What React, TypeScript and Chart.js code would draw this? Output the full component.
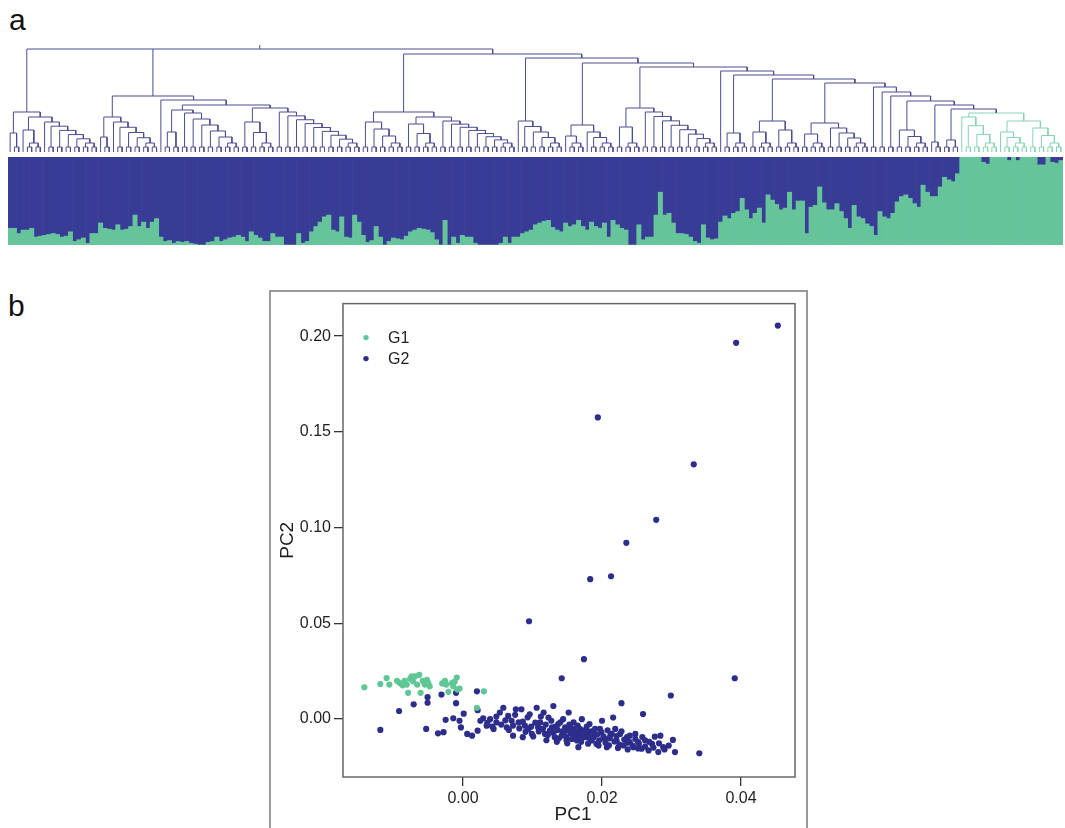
import React, { useEffect, useRef } from "react";
import { Chart, registerables } from "chart.js";
Chart.register(...registerables);

const FONT = "'Liberation Sans', Arial, Helvetica, sans-serif";
const BAR_BLUE = "#393c97";
const BAR_GREEN = "#66c49b";
const DENDRO_BLUE = "#4b4d8f";
const DENDRO_GREEN = "#86d3b1";
const PT_G1 = "#5ec795";
const PT_G2 = "#2d2d8b";

// ---- panel a: share of cluster G1 (green) per sample, in dendrogram order
const G1_SHARE = [
  0.19, 0.19, 0.13, 0.17, 0.17, 0.19, 0.09, 0.10, 0.11, 0.12,
  0.13, 0.12, 0.09, 0.10, 0.15, 0.04, 0.06, 0.08, 0.02, 0.13,
  0.13, 0.25, 0.19, 0.18, 0.17, 0.23, 0.17, 0.18, 0.21, 0.34,
  0.21, 0.26, 0.19, 0.26, 0.30, 0.09, 0.04, 0.05, 0.02, 0.04,
  0.03, 0.04, 0.02, 0.01, 0.00, 0.00, 0.03, 0.04, 0.09, 0.04,
  0.06, 0.08, 0.09, 0.11, 0.09, 0.04, 0.15, 0.11, 0.08, 0.04,
  0.04, 0.13, 0.09, 0.09, 0.00, 0.00, 0.00, 0.13, 0.02, 0.04,
  0.15, 0.21, 0.26, 0.32, 0.34, 0.17, 0.15, 0.32, 0.09, 0.08,
  0.34, 0.26, 0.11, 0.03, 0.05, 0.21, 0.09, 0.00, 0.04, 0.08,
  0.07, 0.06, 0.10, 0.15, 0.17, 0.19, 0.18, 0.17, 0.14, 0.06,
  0.00, 0.28, 0.00, 0.09, 0.02, 0.11, 0.09, 0.09, 0.02, 0.00,
  0.00, 0.00, 0.00, 0.00, 0.02, 0.09, 0.02, 0.09, 0.09, 0.13,
  0.15, 0.17, 0.23, 0.25, 0.27, 0.28, 0.20, 0.17, 0.15, 0.25,
  0.21, 0.23, 0.28, 0.21, 0.17, 0.26, 0.21, 0.19, 0.25, 0.09,
  0.28, 0.23, 0.19, 0.17, 0.00, 0.00, 0.23, 0.06, 0.09, 0.09,
  0.34, 0.60, 0.34, 0.36, 0.25, 0.13, 0.13, 0.12, 0.09, 0.04,
  0.02, 0.23, 0.08, 0.06, 0.07, 0.26, 0.33, 0.30, 0.36, 0.38,
  0.53, 0.40, 0.30, 0.36, 0.42, 0.25, 0.57, 0.51, 0.46, 0.40,
  0.42, 0.60, 0.40, 0.50, 0.50, 0.13, 0.43, 0.45, 0.66, 0.48,
  0.40, 0.40, 0.47, 0.38, 0.30, 0.19, 0.45, 0.32, 0.30, 0.24,
  0.21, 0.11, 0.38, 0.32, 0.30, 0.36, 0.49, 0.55, 0.57, 0.53,
  0.47, 0.43, 0.68, 0.60, 0.55, 0.55, 0.66, 0.77, 0.74, 0.72,
  0.81, 1.00, 1.00, 1.00, 1.00, 1.00, 0.94, 0.92, 1.00, 1.00,
  1.00, 1.00, 0.96, 1.00, 0.96, 1.00, 1.00, 1.00, 1.00, 0.91,
  0.91, 1.00, 0.94, 0.93, 0.96,
];
const G2_SHARE = G1_SHARE.map((v) => +(1 - v).toFixed(2));
const SAMPLES = G1_SHARE.map((_, i) => `S${i + 1}`);

// ---- dendrogram topology (heights in px-like units above the leaves)
type Spec = { h: number; c?: Spec[]; n?: number };
const node = (h: number, ...c: Spec[]): Spec => ({ h, c });
const clade = (n: number, h: number): Spec => ({ n, h });
const LEAF = clade(1, 0);
const PAIR_H = 5;
const LADDER_LOW = 9;
const ROOT_STUB = 4;
const G1_LEAVES = 24;

const CLADE_A = node(40, clade(3, 19), node(35, clade(5, 22), clade(13, 30)));
const CLADE_B = node(56,
  node(35, clade(3, 15), clade(11, 30)),
  node(52, LEAF, node(47, node(42, clade(4, 20), clade(14, 39)), node(44, clade(8, 30), clade(20, 40)))));
const CLADE_R1 = node(40, clade(10, 30), node(35, clade(8, 28), clade(18, 31)));
const CLADE_G1 = node(39, clade(9, 35), node(31, clade(7, 20), clade(8, 24)));
// right-hand chain: [merge height, side clade], from the top down to G1
const R_CHAIN: [number, Spec][] = [
  [94, clade(11, 31)],
  [89, node(27, clade(5, 16), clade(7, 20))],
  [85, node(44, clade(6, 25), clade(18, 40))],
  [81, LEAF],
  [77, clade(6, 19)],
  [73, node(31, clade(6, 20), clade(6, 22))],
  [69, node(29, clade(6, 18), clade(10, 24))],
  [65, clade(2, 5)],
  [60, clade(2, 5)],
  [56, clade(2, 5)],
  [51, clade(8, 22)],
  [47, clade(3, 10)],
  [43, clade(4, 12)],
];
const CLADE_R = node(98, CLADE_R1,
  R_CHAIN.reduceRight<Spec>((acc, [h, side]) => node(h, side, acc), CLADE_G1));
const TREE = node(103, CLADE_A, CLADE_B, CLADE_R);

// ---- panel b: PCA scores
const G1_POINTS: [number, number][] = [
  [-0.0142, 0.0165], [-0.0119, 0.0182], [-0.0110, 0.0213], [-0.0106, 0.0179], [-0.0095, 0.0199],
  [-0.0091, 0.0187], [-0.0087, 0.0175], [-0.0084, 0.0199], [-0.0079, 0.0136], [-0.0081, 0.0179],
  [-0.0076, 0.0210], [-0.0072, 0.0196], [-0.0074, 0.0222], [-0.0069, 0.0222], [-0.0066, 0.0179],
  [-0.0063, 0.0230], [-0.0061, 0.0136], [-0.0058, 0.0199], [-0.0055, 0.0179], [-0.0052, 0.0204],
  [-0.0050, 0.0187], [-0.0048, 0.0170], [-0.0026, 0.0199], [-0.0024, 0.0179], [-0.0021, 0.0141],
  [-0.0016, 0.0187], [-0.0014, 0.0170], [-0.0009, 0.0216], [-0.0008, 0.0153], [-0.0005, 0.0158],
  [0.0020, 0.0058], [0.0030, 0.0144], [-0.0030, 0.0185], [-0.0012, 0.0195],
];
const G2_POINTS: [number, number][] = [
  [0.0453, 0.2055], [0.0393, 0.1965], [0.0194, 0.1575], [0.0332, 0.1330], [0.0278, 0.1040],
  [0.0235, 0.0920], [0.0213, 0.0745], [0.0183, 0.0730], [0.0095, 0.0510], [0.0174, 0.0312],
  [0.0142, 0.0212], [0.0391, 0.0212], [0.0299, 0.0122], [0.0228, 0.0082], [0.0259, 0.0025],
  [0.0340, -0.0180],
  [0.0020, 0.0144], [-0.0010, 0.0136], [-0.0031, 0.0127], [-0.0051, 0.0113], [-0.0051, 0.0084],
  [-0.0071, 0.0076], [-0.0010, 0.0082], [-0.0092, 0.0041], [-0.0119, -0.0058], [-0.0053, -0.0053],
  [-0.0036, -0.0076], [-0.0028, -0.0070], [-0.0025, -0.0005], [-0.0014, 0.0003], [-0.0005, -0.0010],
  [0.0001, 0.0027], [-0.0003, -0.0045], [0.0006, -0.0079], [0.0013, -0.0088], [0.0021, -0.0062],
  [0.0021, 0.0045], [0.0025, -0.0010], [0.0029, 0.0003], [0.0034, -0.0036], [0.0039, -0.0002],
  [0.0044, -0.0053], [0.0048, -0.0019], [0.0053, 0.0033], [0.0058, 0.0058], [0.0063, -0.0045],
  [0.0065, 0.0015], [0.0070, -0.0010], [0.0072, -0.0088], [0.0076, 0.0050], [0.0080, -0.0019],
  [0.0084, 0.0050], [0.0086, -0.0096], [0.0089, -0.0036], [0.0094, -0.0053], [0.0096, 0.0024],
  [0.0099, -0.0079], [0.0106, 0.0058], [0.0108, -0.0045], [0.0111, -0.0019], [0.0116, 0.0033],
  [0.0118, -0.0079], [0.0123, 0.0007], [0.0128, -0.0045], [0.0130, 0.0067], [0.0132, -0.0096],
  [0.0137, -0.0027], [0.0142, -0.0088], [0.0144, -0.0002], [0.0149, -0.0113], [0.0152, 0.0033],
  [0.0154, -0.0045], [0.0159, -0.0019], [0.0161, -0.0088], [0.0164, -0.0113], [0.0166, -0.0148],
  [0.0168, -0.0053], [0.0171, -0.0002], [0.0176, -0.0096], [0.0178, -0.0062], [0.0182, -0.0027],
  [0.0185, -0.0113], [0.0189, -0.0079], [0.0192, -0.0131], [0.0197, -0.0053], [0.0200, -0.0010],
  [0.0204, -0.0105], [0.0207, -0.0148], [0.0212, -0.0088], [0.0216, 0.0007], [0.0219, -0.0053],
  [0.0221, -0.0113], [0.0226, -0.0079], [0.0231, -0.0139], [0.0236, -0.0096], [0.0240, -0.0122],
  [0.0245, -0.0148], [0.0248, -0.0079], [0.0252, -0.0122], [0.0257, -0.0156], [0.0262, -0.0113],
  [0.0267, -0.0165], [0.0272, -0.0131], [0.0276, -0.0093], [0.0281, -0.0174], [0.0284, -0.0088],
  [0.0288, -0.0148], [0.0302, -0.0110], [0.0305, -0.0174],
  [0.0035, -0.0021], [0.0042, -0.0040], [0.0048, 0.0012], [0.0055, -0.0030], [0.0061, -0.0008],
  [0.0066, -0.0058], [0.0072, -0.0035], [0.0075, 0.0021], [0.0081, -0.0050], [0.0086, -0.0015],
  [0.0090, -0.0068], [0.0093, 0.0008], [0.0098, -0.0041], [0.0101, -0.0092], [0.0104, -0.0020],
  [0.0109, -0.0066], [0.0112, 0.0012], [0.0115, -0.0052], [0.0119, -0.0030], [0.0122, -0.0085],
  [0.0125, -0.0061], [0.0127, -0.0010], [0.0130, -0.0074], [0.0133, -0.0040], [0.0136, -0.0058],
  [0.0138, -0.0102], [0.0140, -0.0018], [0.0143, -0.0066], [0.0145, -0.0080], [0.0147, -0.0045],
  [0.0149, -0.0095], [0.0151, -0.0060], [0.0153, -0.0030], [0.0155, -0.0075], [0.0157, -0.0105],
  [0.0159, -0.0052], [0.0161, -0.0088], [0.0163, -0.0068], [0.0165, -0.0035], [0.0168, -0.0080],
  [0.0170, -0.0120], [0.0172, -0.0060], [0.0174, -0.0095], [0.0176, -0.0072], [0.0178, -0.0040],
  [0.0181, -0.0086], [0.0183, -0.0108], [0.0185, -0.0065], [0.0188, -0.0098], [0.0190, -0.0052],
  [0.0193, -0.0082], [0.0196, -0.0112], [0.0199, -0.0070], [0.0202, -0.0092], [0.0205, -0.0125],
  [0.0208, -0.0060], [0.0211, -0.0102], [0.0214, -0.0078], [0.0218, -0.0118], [0.0221, -0.0090],
  [0.0225, -0.0135], [0.0228, -0.0065], [0.0232, -0.0108], [0.0236, -0.0125], [0.0240, -0.0088],
  [0.0244, -0.0140], [0.0248, -0.0105], [0.0253, -0.0130], [0.0258, -0.0095], [0.0262, -0.0145],
  [0.0268, -0.0120], [0.0274, -0.0150], [0.0282, -0.0128], [0.0290, -0.0160], [0.0296, -0.0140],
  [0.0120, -0.0112], [0.0135, -0.0120], [0.0150, -0.0128], [0.0166, -0.0100], [0.0180, -0.0130],
  [0.0195, -0.0140], [0.0210, -0.0138], [0.0223, -0.0152], [0.0237, -0.0160], [0.0252, -0.0155],
];
const PC1_TICKS = [0, 0.02, 0.04];
const PC2_TICKS = [0, 0.05, 0.1, 0.15, 0.2];
const PC1_RANGE = [-0.01727, 0.04777];
const PC2_RANGE = [-0.0304, 0.217];
const LEGEND = [
  { name: "G1", color: PT_G1 },
  { name: "G2", color: PT_G2 },
];

// ---- tree layout
interface TN { x: number; h: number; kids: TN[]; lo: number; hi: number }
function buildTree(spec: Spec): TN {
  let next = 0;
  const leaf = (): TN => { const i = next++; return { x: i, h: 0, kids: [], lo: i, hi: i }; };
  const join = (h: number, kids: TN[]): TN => ({
    x: (kids[0].x + kids[kids.length - 1].x) / 2,
    h,
    kids,
    lo: kids[0].lo,
    hi: kids[kids.length - 1].hi,
  });
  const rec = (s: Spec): TN => {
    if (s.c) return join(s.h, s.c.map(rec));
    const n = s.n as number;
    if (n === 1) return leaf();
    const items: TN[] = [];
    if (n % 2 === 1) items.push(leaf());
    for (let p = 0; p < Math.floor(n / 2); p++) {
      const a = leaf();
      const b = leaf();
      items.push(join(PAIR_H, [a, b]));
    }
    if (items.length === 1) { items[0].h = Math.max(s.h, PAIR_H); return items[0]; }
    const m = items.length;
    const hs: number[] = [];
    for (let j = 0; j < m - 1; j++) hs.push(m - 1 === 1 ? s.h : s.h - (j * (s.h - LADDER_LOW)) / (m - 2));
    let cur = join(hs[m - 2], [items[m - 2], items[m - 1]]);
    for (let j = m - 3; j >= 0; j--) cur = join(hs[j], [items[j], cur]);
    return cur;
  };
  return rec(spec);
}

function treeSegments(root: TN, g1Start: number) {
  const blue: any[] = [];
  const green: any[] = [];
  const walk = (t: TN) => {
    if (!t.kids.length) return;
    const arr = t.lo >= g1Start ? green : blue;
    const f = t.kids[0];
    const l = t.kids[t.kids.length - 1];
    arr.push({ x: f.x, y: f.h }, { x: f.x, y: t.h }, { x: l.x, y: t.h }, { x: l.x, y: l.h }, { x: l.x, y: null });
    for (const k of t.kids.slice(1, -1)) arr.push({ x: k.x, y: k.h }, { x: k.x, y: t.h }, { x: k.x, y: null });
    t.kids.forEach(walk);
  };
  walk(root);
  blue.push({ x: root.x, y: root.h }, { x: root.x, y: root.h + ROOT_STUB });
  return { blue, green };
}

function Dendrogram() {
  const ref = useRef<HTMLCanvasElement>(null);
  useEffect(() => {
    const root = buildTree(TREE);
    const seg = treeSegments(root, G1_SHARE.length - G1_LEAVES);
    const line = (data: any[], color: string) => ({
      data, borderColor: color, borderWidth: 1, pointRadius: 0, tension: 0, spanGaps: false, fill: false,
    });
    const chart = new Chart(ref.current as HTMLCanvasElement, {
      type: "line",
      data: { datasets: [line(seg.blue, DENDRO_BLUE), line(seg.green, DENDRO_GREEN)] as any },
      options: {
        responsive: false,
        animation: false,
        events: [],
        layout: { padding: { left: 8, right: 2, top: 5, bottom: 3 } },
        scales: {
          x: { type: "linear", min: -0.5, max: G1_SHARE.length - 0.5, display: false },
          y: { type: "linear", min: 0, max: 107, display: false },
        },
        plugins: { legend: { display: false }, tooltip: { enabled: false } },
      },
    });
    return () => chart.destroy();
  }, []);
  return <canvas ref={ref} width={1065} height={115} style={{ position: "absolute", left: 0, top: 40 }} />;
}

function StructureBars() {
  const ref = useRef<HTMLCanvasElement>(null);
  useEffect(() => {
    const chart = new Chart(ref.current as HTMLCanvasElement, {
      type: "bar",
      data: {
        labels: SAMPLES,
        datasets: [
          { label: "G1", data: G1_SHARE, backgroundColor: BAR_GREEN, borderWidth: 0, barPercentage: 1, categoryPercentage: 1 },
          { label: "G2", data: G2_SHARE, backgroundColor: BAR_BLUE, borderWidth: 0, barPercentage: 1, categoryPercentage: 1 },
        ],
      },
      options: {
        responsive: false,
        animation: false,
        events: [],
        layout: { padding: { left: 8, right: 2, top: 2, bottom: 2 } },
        scales: {
          x: { stacked: true, display: false },
          y: { stacked: true, min: 0, max: 1, display: false },
        },
        plugins: { legend: { display: false }, tooltip: { enabled: false } },
      },
    });
    return () => chart.destroy();
  }, []);
  return <canvas ref={ref} width={1065} height={92} style={{ position: "absolute", left: 0, top: 155 }} />;
}

const pcaDecor = {
  id: "pcaDecor",
  afterDraw(chart: any) {
    const { ctx, chartArea: a } = chart;
    ctx.save();
    ctx.strokeStyle = "#666";
    ctx.lineWidth = 1.5;
    ctx.strokeRect(a.left, a.top, a.right - a.left, a.bottom - a.top);
    ctx.font = `16px ${FONT}`;
    ctx.textBaseline = "middle";
    ctx.textAlign = "left";
    LEGEND.forEach((g, i) => {
      const y = a.top + 34 + i * 21;
      ctx.beginPath();
      ctx.arc(a.left + 23, y, 2.7, 0, Math.PI * 2);
      ctx.fillStyle = g.color;
      ctx.fill();
      ctx.fillStyle = "#1e1e1e";
      ctx.fillText(g.name, a.left + 45, y + 1);
    });
    ctx.font = `19px ${FONT}`;
    ctx.textAlign = "center";
    ctx.fillStyle = "#1e1e1e";
    ctx.fillText("PC1", (a.left + a.right) / 2 + 4, a.bottom + 38);
    ctx.translate(18, (a.top + a.bottom) / 2);
    ctx.rotate(-Math.PI / 2);
    ctx.fillText("PC2", 0, 0);
    ctx.restore();
  },
};

function PcaScatter() {
  const ref = useRef<HTMLCanvasElement>(null);
  useEffect(() => {
    const axis = (range: number[], ticks: number[], fix: (s: any) => void) => ({
      type: "linear",
      min: range[0],
      max: range[1],
      afterBuildTicks: (s: any) => { s.ticks = ticks.map((v) => ({ value: v })); },
      afterFit: fix,
      grid: { drawOnChartArea: false, drawTicks: true, tickLength: 9, color: "#333", lineWidth: 1.3 },
      border: { display: false },
      ticks: {
        font: { size: 16, family: FONT },
        color: "#1e1e1e",
        padding: 3,
        maxRotation: 0,
        autoSkip: false,
        callback: (v: any) => Number(v).toFixed(2),
      },
    });
    const chart = new Chart(ref.current as HTMLCanvasElement, {
      type: "scatter",
      data: {
        datasets: [
          { label: "G1", data: G1_POINTS.map(([x, y]) => ({ x, y })), backgroundColor: PT_G1, pointRadius: 3.1, borderWidth: 0 },
          { label: "G2", data: G2_POINTS.map(([x, y]) => ({ x, y })), backgroundColor: PT_G2, pointRadius: 3.1, borderWidth: 0 },
        ],
      },
      options: {
        responsive: false,
        animation: false,
        events: [],
        layout: { padding: { left: 0, right: 13, top: 6, bottom: 0 } },
        scales: {
          x: axis(PC1_RANGE, PC1_TICKS, (s: any) => { s.height = 51; }) as any,
          y: axis(PC2_RANGE, PC2_TICKS, (s: any) => { s.width = 73; }) as any,
        },
        plugins: { legend: { display: false }, tooltip: { enabled: false } },
      },
      plugins: [pcaDecor],
    });
    return () => chart.destroy();
  }, []);
  return <canvas ref={ref} width={538} height={537} style={{ position: "absolute", left: 270, top: 291 }} />;
}

export default function App() {
  return (
    <div style={{ position: "absolute", left: 0, top: 0, width: 1065, height: 828, overflow: "hidden", background: "#fff", fontFamily: FONT }}>
      <div style={{ position: "absolute", left: 9, top: 5, fontSize: 30, lineHeight: "30px", color: "#111" }}>a</div>
      <div style={{ position: "absolute", left: 8, top: 291, fontSize: 30, lineHeight: "30px", color: "#111" }}>b</div>
      <Dendrogram />
      <StructureBars />
      <div style={{ position: "absolute", left: 269, top: 290, width: 539, height: 600, border: "2px solid #9a9a9a", boxSizing: "border-box" }} />
      <PcaScatter />
    </div>
  );
}
